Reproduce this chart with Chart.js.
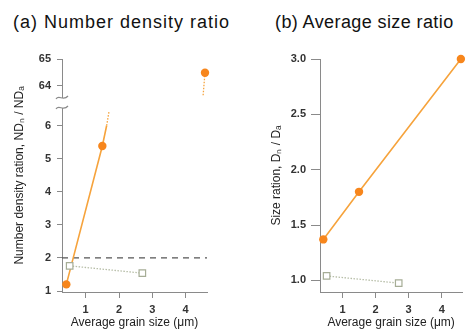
<!DOCTYPE html>
<html>
<head>
<meta charset="utf-8">
<script src="https://cdn.jsdelivr.net/npm/chart.js@4"></script>
<style>
  html, body { margin: 0; padding: 0; background: #fff; }
  #wrap { position: relative; width: 468px; height: 331px; overflow: hidden; }
  canvas { position: absolute; top: 0; }
  #chartA { left: 0; }
  #chartB { left: 234px; }
  .ttl { position: absolute; top: 12px; font: 18px/20px "Liberation Sans", Arial, sans-serif; color: #111; white-space: nowrap; }
</style>
</head>
<body>
<div id="wrap">
  <div class="ttl" style="left:13px;letter-spacing:1px">(a) Number density ratio</div>
  <div class="ttl" style="left:275px;letter-spacing:0.4px">(b) Average size ratio</div>
  <canvas id="chartA" width="234" height="331" style="width:234px;height:331px"></canvas>
  <canvas id="chartB" width="234" height="331" style="width:234px;height:331px"></canvas>
</div>
<script>
// grain sizes (um)
const sizeOrange = [0.42, 1.5, 4.58];
const sizeGray = [0.52, 2.7];

// (a) number density ratio
const densityOrange = [1.2, 5.38, 64.48];
const densityGray = [1.76, 1.54];
const densityRef = 2;
// where the orange line runs into the axis break
const breakLowX = [1.63, 1.7];
const breakLowY = [6.0, 6.42];
const breakHighX = [4.58, 4.52];
const breakHighY = [64.48, 63.58];

// (b) average size ratio
const ratioOrange = [1.37, 1.8, 3.0];
const ratioGray = [1.04, 0.975];

const xTicks = [1, 2, 3, 4];
const lowTicks = [1, 2, 3, 4, 5, 6];
const highTicks = [64, 65];
const ratioTicks = [1.0, 1.5, 2.0, 2.5, 3.0];

const orange = "#f7861c";
const orangeLine = "#f6a33c";
const grayLine = "#b7bea8";
const graySq = "#a6ad96";
const axisCol = "#8a8a8a";

Chart.defaults.font.family = '"Liberation Sans", Arial, sans-serif';
Chart.defaults.animation = false;

const pts = (xs, ys) => xs.map((x, i) => ({ x: x, y: ys[i] }));

const tickFont = { size: 11, weight: "bold" };
const titleFont = { size: 12 };

const setTicks = list => s => {
  s.ticks = list.map(v => ({ value: v }));
};

function xScale(min, max) {
  return {
    type: "linear",
    min: min,
    max: max,
    afterBuildTicks: setTicks(xTicks),
    afterFit: s => { s.height = 39; },
    grid: { display: true, drawOnChartArea: false, drawTicks: true, tickLength: 6, color: axisCol },
    border: { display: true, color: axisCol, width: 1 },
    ticks: { font: tickFont, color: "#333", padding: 5 },
    title: { display: true, text: "Average grain size (μm)", font: titleFont, color: "#222", padding: { top: 0, bottom: 1 } }
  };
}

const refLine = {
  id: "refLine",
  beforeDatasetsDraw(chart) {
    const y = chart.scales.yLow.getPixelForValue(densityRef);
    const a = chart.chartArea;
    const ctx = chart.ctx;
    ctx.save();
    ctx.strokeStyle = "#555";
    ctx.lineWidth = 1.2;
    ctx.setLineDash([6, 5]);
    ctx.beginPath();
    ctx.moveTo(a.left, y);
    ctx.lineTo(a.right, y);
    ctx.stroke();
    ctx.restore();
  }
};

// the two tildes over the gap between the stacked y scales
const axisBreak = {
  id: "axisBreak",
  afterDraw(chart) {
    const x = chart.chartArea.left;
    const y = chart.scales.yLow.top;
    const ctx = chart.ctx;
    ctx.save();
    ctx.fillStyle = "#fff";
    ctx.fillRect(x - 3, y - 5, 6, 10);
    ctx.strokeStyle = axisCol;
    ctx.lineWidth = 1.2;
    [y - 5, y + 5].forEach(yy => {
      ctx.beginPath();
      ctx.moveTo(x - 6, yy + 1);
      ctx.bezierCurveTo(x - 3, yy - 4, x + 1, yy + 4, x + 6, yy - 2);
      ctx.stroke();
    });
    ctx.restore();
  }
};

new Chart(document.getElementById("chartA"), {
  type: "line",
  data: {
    datasets: [
      {
        data: pts(sizeOrange.slice(0, 2).concat(breakLowX[0]), densityOrange.slice(0, 2).concat(breakLowY[0])),
        yAxisID: "yLow",
        borderColor: orangeLine,
        borderWidth: 1.6,
        pointRadius: [4.2, 4.2, 0],
        pointBackgroundColor: orange,
        pointBorderWidth: 0,
        clip: false,
        order: 1
      },
      {
        data: pts(breakLowX, breakLowY),
        yAxisID: "yLow",
        borderColor: orangeLine,
        borderWidth: 1.3,
        borderDash: [1.5, 1.5],
        pointRadius: 0,
        clip: false,
        order: 2
      },
      {
        data: pts(breakHighX, breakHighY),
        yAxisID: "yHigh",
        borderColor: orangeLine,
        borderWidth: 1.3,
        borderDash: [1.5, 1.5],
        pointRadius: [4.2, 0],
        pointBackgroundColor: orange,
        pointBorderWidth: 0,
        clip: false,
        order: 1
      },
      {
        data: pts(sizeGray, densityGray),
        yAxisID: "yLow",
        borderColor: grayLine,
        borderWidth: 1.3,
        borderDash: [1.5, 1.5],
        pointStyle: "rect",
        pointRadius: 4.6,
        pointBackgroundColor: "#fff",
        pointBorderColor: graySq,
        pointBorderWidth: 1.2,
        clip: false,
        order: 0
      }
    ]
  },
  options: {
    responsive: false,
    layout: { padding: { left: 12, right: 27, top: 59, bottom: 0 } },
    plugins: { legend: { display: false }, tooltip: { enabled: false } },
    scales: {
      x: xScale(0.29, 4.64),
      yLow: {
        type: "linear",
        position: "left",
        stack: "a",
        stackWeight: 189,
        min: 0.97,
        max: 6.68,
        afterBuildTicks: setTicks(lowTicks),
        afterFit: s => { s.width = 35; },
        grid: { display: true, drawOnChartArea: false, drawTicks: true, tickLength: 5, color: axisCol },
        border: { display: true, color: axisCol, width: 1 },
        ticks: { font: tickFont, color: "#333", padding: 6 }
      },
      yHigh: {
        type: "linear",
        position: "left",
        stack: "a",
        stackWeight: 44,
        min: 63.34,
        max: 65,
        afterBuildTicks: setTicks(highTicks),
        afterFit: s => { s.width = 35; },
        grid: { display: true, drawOnChartArea: false, drawTicks: true, tickLength: 5, color: axisCol },
        border: { display: true, color: axisCol, width: 1 },
        ticks: { font: tickFont, color: "#333", padding: 6 }
      },
      // empty scale that only carries the title, so it is centred on both stacked scales
      yTitle: {
        type: "linear",
        position: "left",
        afterFit: s => { s.width = 15; },
        grid: { display: false },
        border: { display: false },
        ticks: { display: false },
        title: { display: true, text: "Number density ration, NDₙ / NDₐ", font: titleFont, color: "#222", padding: 0 }
      }
    }
  },
  plugins: [refLine, axisBreak]
});

new Chart(document.getElementById("chartB"), {
  type: "line",
  data: {
    datasets: [
      {
        data: pts(sizeOrange, ratioOrange),
        borderColor: orangeLine,
        borderWidth: 1.6,
        pointRadius: 4.2,
        pointBackgroundColor: orange,
        pointBorderWidth: 0,
        clip: false,
        order: 1
      },
      {
        data: pts(sizeGray, ratioGray),
        borderColor: grayLine,
        borderWidth: 1.3,
        borderDash: [1.5, 1.5],
        pointStyle: "rect",
        pointRadius: 4.6,
        pointBackgroundColor: "#fff",
        pointBorderColor: graySq,
        pointBorderWidth: 1.2,
        clip: false,
        order: 0
      }
    ]
  },
  options: {
    responsive: false,
    layout: { padding: { left: 35, right: 4, top: 59, bottom: 0 } },
    plugins: { legend: { display: false }, tooltip: { enabled: false } },
    scales: {
      x: xScale(0.32, 4.62),
      y: {
        type: "linear",
        position: "left",
        min: 0.895,
        max: 3.0,
        afterBuildTicks: setTicks(ratioTicks),
        afterFit: s => { s.width = 51; },
        grid: { display: true, drawOnChartArea: false, drawTicks: true, tickLength: 9, color: axisCol },
        border: { display: true, color: axisCol, width: 1 },
        ticks: { font: tickFont, color: "#333", padding: 5, callback: v => v.toFixed(1) },
        title: { display: true, text: "Size ration, Dₙ / Dₐ", font: titleFont, color: "#222", padding: 0 }
      }
    }
  }
});
</script>
</body>
</html>
